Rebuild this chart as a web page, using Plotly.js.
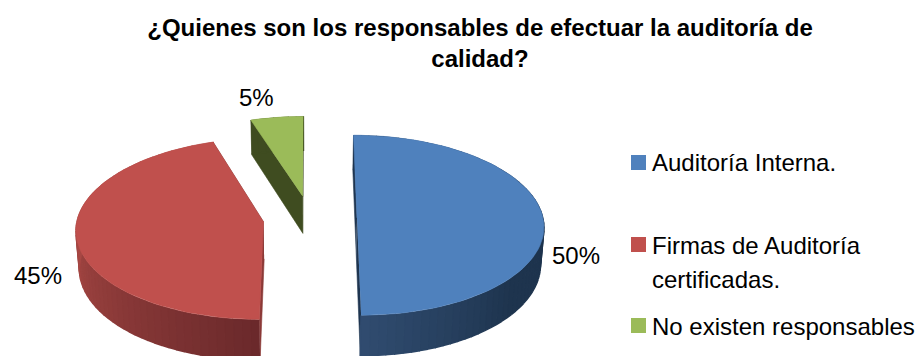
<!DOCTYPE html>
<html>
<head>
<meta charset="utf-8">
<script src="https://cdn.plot.ly/plotly-3.0.1.min.js"></script>
<style>html,body{margin:0;padding:0;background:#fff}#chart{width:919px;height:356px}</style>
</head>
<body>
<div id="chart"></div>
<script>
// Survey answers, in percent, clockwise from twelve o'clock
const categories = [['Auditoría Interna.'], ['Firmas de Auditoría', 'certificadas.'], ['No existen responsables']];
const percentages = [50, 45, 5];
const chartTitle = '<b>¿Quienes son los responsables de efectuar la auditoría de<br>calidad?</b>';

const topColors = ['#4F81BD', '#C0504D', '#9BBB59'];
// Outer wall shading: base colour, far colour, and where along the arc the blend runs
const wallFrom = [[30, 52, 78], [106, 41, 43], [63, 76, 32]];
const wallTo = [[48, 76, 112], [168, 72, 68], [63, 76, 32]];
const wallBlend = [[0.72, 1], [0, 0.55], [0, 1]];
const cutColors = ['#1F3550', '#8C3A38', '#3F4C20'];

const legendX = 652, legendSquareX = 638.5;
const legendTextY = [[162], [245, 279], [326]], legendSquareY = [162.5, 244.5, 325.5];
const labelX = [576, 38, 256], labelY = [255, 275, 97];

// Perspective of the tilted pie, in plot units
const cam = {xc: 310, yc: 218, R: 186, squash: 0.4806, persp: 0.08, depth: 38, taper: 0.015, pull: 47};

function project(X, Y, z) {
  const w = 1 + cam.persp * Y / cam.R;
  return [cam.xc + X / w * (1 - cam.taper * z), cam.yc - cam.squash * Y / w + cam.depth * z / w];
}
function rim(ox, oy, deg, z) {
  const t = deg * Math.PI / 180;
  return project(ox + cam.R * Math.sin(t), oy + cam.R * Math.cos(t), z);
}
function polygon(points, color, width) {
  return {
    type: 'scatter', mode: 'lines', x: points.map(p => p[0]), y: points.map(p => p[1]),
    fill: 'toself', fillcolor: color, line: {color: color, width: width}, hoverinfo: 'skip', showlegend: false
  };
}

const traces = [];
const tops = [];
let start = 0;
const sliceInfo = percentages.map((v, i) => {
  const a0 = start, a1 = start + v * 3.6;
  start = a1;
  const mid = (a0 + a1) / 2 * Math.PI / 180;
  return {i, a0, a1, ox: cam.pull * Math.sin(mid), oy: cam.pull * Math.cos(mid)};
});
// Green is farthest from the viewer, so walls are layered green, red, blue
[2, 1, 0].forEach(k => {
  const s = sliceInfo[k];
  // Radial cut faces, then the outer wall as narrow shaded strips
  [s.a0, s.a1].forEach(a => {
    traces.push(polygon([project(s.ox, s.oy, 0), rim(s.ox, s.oy, a, 0), rim(s.ox, s.oy, a, 1), project(s.ox, s.oy, 1)], cutColors[k], 0.6));
  });
  const steps = Math.max(4, Math.round((s.a1 - s.a0) / 2.5));
  const [b0, b1] = wallBlend[k];
  for (let n = 0; n < steps; n++) {
    const a = s.a0 + (s.a1 - s.a0) * n / steps, b = s.a0 + (s.a1 - s.a0) * (n + 1) / steps;
    const f = Math.max(0, Math.min(1, ((n + 0.5) / steps - b0) / (b1 - b0)));
    const c = wallFrom[k].map((c0, j) => Math.round(c0 + (wallTo[k][j] - c0) * f));
    traces.push(polygon([rim(s.ox, s.oy, a, 0.02), rim(s.ox, s.oy, b, 0.02), rim(s.ox, s.oy, b, 0.98), rim(s.ox, s.oy, a, 0.98)], `rgb(${c})`, 1.6));
  }
  const face = [project(s.ox, s.oy, 0)];
  for (let n = 0; n <= steps; n++) face.push(rim(s.ox, s.oy, s.a0 + (s.a1 - s.a0) * n / steps, 0));
  tops.push(polygon(face, topColors[k], 0.6));
});
traces.push(...tops);

// Legend swatches
traces.push({
  type: 'scatter', mode: 'markers', x: categories.map(() => legendSquareX), y: legendSquareY,
  marker: {symbol: 'square', size: 15, color: topColors}, hoverinfo: 'skip', showlegend: false
});

const family = 'Liberation Sans, Arial, sans-serif';
const annotations = [];
categories.forEach((lines, i) => lines.forEach((line, j) => annotations.push({
  xref: 'x', yref: 'y', x: legendX, y: legendTextY[i][j], text: line, showarrow: false,
  xanchor: 'left', yanchor: 'middle', align: 'left', xshift: -2, font: {family, size: 24, color: '#000'}
})));
percentages.forEach((v, i) => annotations.push({
  xref: 'x', yref: 'y', x: labelX[i], y: labelY[i], text: v + '%', showarrow: false,
  xanchor: 'center', yanchor: 'middle', font: {family, size: 24, color: '#000'}
}));

Plotly.newPlot('chart', traces, {
  width: 919, height: 356,
  margin: {l: 0, r: 0, t: 0, b: 0},
  paper_bgcolor: '#fff', plot_bgcolor: '#fff', showlegend: false,
  title: {
    text: chartTitle, x: 480 / 919, xanchor: 'center', y: 0.90, yanchor: 'top',
    font: {family, size: 24, color: '#000'}
  },
  xaxis: {range: [0, 919], visible: false, fixedrange: true},
  yaxis: {range: [356, 0], visible: false, fixedrange: true},
  annotations
}, {displayModeBar: false, staticPlot: true});
</script>
</body>
</html>
